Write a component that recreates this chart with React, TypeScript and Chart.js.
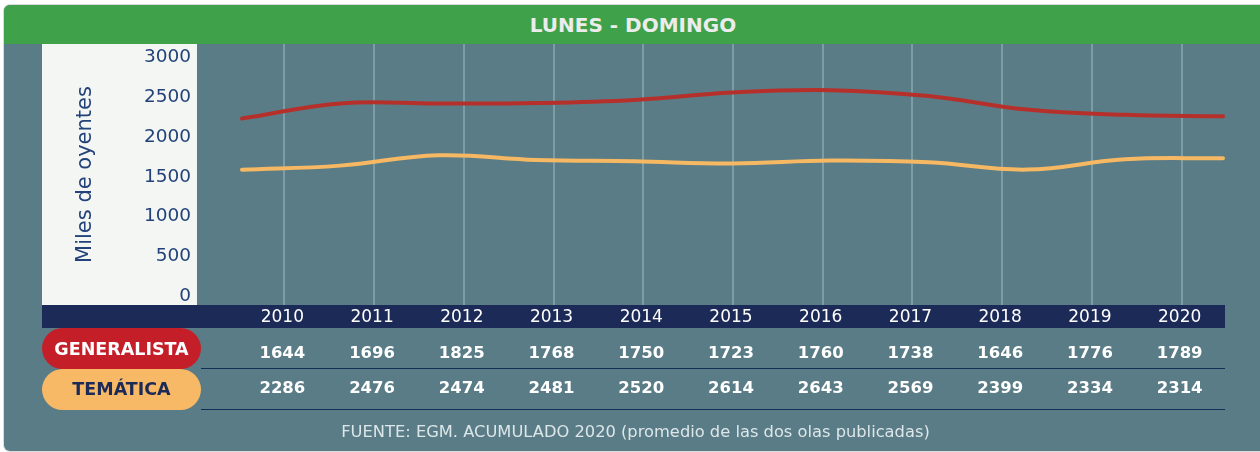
import React, { useEffect, useRef } from 'react';
import { Chart, registerables } from 'chart.js';

Chart.register(...registerables);

// ---- data ----
const years = ['2010', '2011', '2012', '2013', '2014', '2015', '2016', '2017', '2018', '2019', '2020'];
const generalista = [1644, 1696, 1825, 1768, 1750, 1723, 1760, 1738, 1646, 1776, 1789];
const tematica = [2286, 2476, 2474, 2481, 2520, 2614, 2643, 2569, 2399, 2334, 2314];
const yTickValues = [0, 500, 1000, 1500, 2000, 2500, 3000];
const rowLabels = ['GENERALISTA', 'TEMÁTICA'];
const headerText = 'LUNES - DOMINGO';
const yAxisTitle = 'Miles de oyentes';
const sourceText = 'FUENTE: EGM. ACUMULADO 2020 (promedio de las dos olas publicadas)';

// ---- styles ----
const FONT = "'DejaVu Sans', sans-serif";
const C = {
  slate: '#597c86',
  green: '#3fa149',
  navy: '#1c2a58',
  panel: '#f4f6f3',
  grid: '#7c9da6',
  redPill: '#c41f28',
  orangePill: '#f8b966',
  redLine: '#b6302b',
  orangeLine: '#f6b862',
  axisText: '#23427a',
  rule: '#132f58',
  note: '#dde6e9',
  header: '#ececec',
};

function pill(ctx: CanvasRenderingContext2D, x: number, y: number, w: number, h: number) {
  const r = h / 2;
  ctx.beginPath();
  ctx.moveTo(x + r, y);
  ctx.lineTo(x + w - r, y);
  ctx.arc(x + w - r, y + r, r, -Math.PI / 2, Math.PI / 2);
  ctx.lineTo(x + r, y + h);
  ctx.arc(x + r, y + r, r, Math.PI / 2, (3 * Math.PI) / 2);
  ctx.closePath();
  ctx.fill();
}

const decorPlugin = {
  id: 'decor',
  beforeDraw(chart: any) {
    const { ctx, chartArea } = chart;
    const xs = chart.scales.x;
    ctx.save();
    ctx.fillStyle = C.panel;
    ctx.fillRect(42, chartArea.top, 155, chartArea.bottom - chartArea.top);
    ctx.fillStyle = C.navy;
    ctx.fillRect(42, xs.top, 1225 - 42, xs.bottom - xs.top);
    ctx.restore();
  },
  afterDraw(chart: any) {
    const { ctx } = chart;
    const xs = chart.scales.x;
    const top0 = xs.bottom;
    const rows = [
      { label: rowLabels[0], values: generalista, fill: C.redPill, text: '#ffffff', top: top0, textBase: 27, valueBase: 30.3, rule: 40.5 },
      { label: rowLabels[1], values: tematica, fill: C.orangePill, text: C.navy, top: top0 + 41, textBase: 26.3, valueBase: 23.7, rule: 40.5 },
    ];
    ctx.save();
    rows.forEach((r) => {
      ctx.fillStyle = r.fill;
      pill(ctx, 42, r.top, 159, 41);
      ctx.fillStyle = r.text;
      ctx.font = `bold 17.5px ${FONT}`;
      ctx.textAlign = 'center';
      ctx.textBaseline = 'alphabetic';
      ctx.fillText(r.label, 121.5, r.top + r.textBase);

      ctx.fillStyle = '#ffffff';
      ctx.font = `bold 16.5px ${FONT}`;
      r.values.forEach((v, i) => {
        ctx.fillText(String(v), xs.getPixelForTick(i) - 2, r.top + r.valueBase);
      });

      ctx.strokeStyle = C.rule;
      ctx.lineWidth = 1;
      ctx.beginPath();
      ctx.moveTo(201, Math.round(r.top + r.rule) - 0.5);
      ctx.lineTo(1225, Math.round(r.top + r.rule) - 0.5);
      ctx.stroke();
    });

    ctx.fillStyle = C.note;
    ctx.font = `16.3px ${FONT}`;
    ctx.textAlign = 'center';
    ctx.fillText(sourceText, 635.5, 392.7);
    ctx.restore();
  },
};

export default function App() {
  const ref = useRef<HTMLCanvasElement>(null);

  useEffect(() => {
    if (!ref.current) return;
    const chart = new Chart(ref.current, {
      type: 'line',
      data: {
        labels: years,
        datasets: [
          {
            label: rowLabels[1],
            data: tematica.map((v, i) => ({ x: i, y: v })),
            xAxisID: 'x2',
            yAxisID: 'y',
            borderColor: C.redLine,
            borderWidth: 4,
            borderCapStyle: 'round',
            pointRadius: 0,
            tension: 0.4,
            fill: false,
          },
          {
            label: rowLabels[0],
            data: generalista.map((v, i) => ({ x: i, y: v })),
            xAxisID: 'x2',
            yAxisID: 'y',
            borderColor: C.orangeLine,
            borderWidth: 4,
            borderCapStyle: 'round',
            pointRadius: 0,
            tension: 0.4,
            fill: false,
          },
        ],
      },
      options: {
        responsive: false,
        animation: false,
        events: [],
        layout: { padding: { left: 42, top: 0, right: 33.5, bottom: 124 } },
        plugins: { legend: { display: false }, tooltip: { enabled: false }, title: { display: false } },
        scales: {
          x: {
            type: 'category',
            position: 'bottom',
            offset: true,
            grid: { display: true, color: C.grid, lineWidth: 2, drawTicks: false, offset: false },
            border: { display: false },
            ticks: {
              color: '#ffffff',
              font: { family: FONT, size: 17 },
              padding: 2,
              labelOffset: -2,
              maxRotation: 0,
              autoSkip: false,
            },
            afterFit: (s: any) => {
              s.height = 23;
              s.paddingLeft = 0;
              s.paddingRight = 0;
            },
          },
          x2: {
            type: 'linear',
            display: false,
            min: -0.0255,
            max: 10.0357,
          },
          y: {
            type: 'linear',
            position: 'left',
            min: -52.7,
            max: 3222,
            afterBuildTicks: (s: any) => {
              s.ticks = yTickValues.map((v) => ({ value: v }));
            },
            grid: { display: false, drawTicks: false },
            border: { display: false },
            ticks: {
              color: C.axisText,
              font: { family: FONT, size: 18.5 },
              padding: 48.5,
              labelOffset: -4.5,
              callback: (v: any) => String(v),
            },
            title: {
              display: true,
              text: yAxisTitle,
              color: C.axisText,
              font: { family: FONT, size: 21 },
              padding: { top: 31.4, bottom: 0 },
            },
            afterFit: (s: any) => {
              s.width = 197.5;
              s.paddingTop = 0;
              s.paddingBottom = 0;
            },
          },
        },
      },
      plugins: [decorPlugin],
    } as any);
    return () => chart.destroy();
  }, []);

  return (
    <div style={{ position: 'absolute', left: 0, top: 0, width: 1260, height: 452, background: '#ffffff', overflow: 'hidden' }}>
      <div
        style={{
          position: 'absolute',
          left: 4,
          top: 5,
          width: 1262,
          height: 446,
          background: C.slate,
          borderRadius: 6,
          boxShadow: '0 0 0 1px #d8dcdc',
        }}
      />
      <div
        style={{
          position: 'absolute',
          left: 4,
          top: 5,
          width: 1262,
          height: 39,
          background: C.green,
          borderRadius: '6px 6px 0 0',
          display: 'flex',
          alignItems: 'center',
          justifyContent: 'center',
          fontFamily: FONT,
          fontWeight: 'bold',
          fontSize: 20,
          color: C.header,
        }}
      >
        <span style={{ position: 'absolute', left: 0, width: 1258, textAlign: 'center' }}>{headerText}</span>
      </div>
      <canvas ref={ref} width={1260} height={408} style={{ position: 'absolute', left: 0, top: 44, width: 1260, height: 408 }} />
    </div>
  );
}
